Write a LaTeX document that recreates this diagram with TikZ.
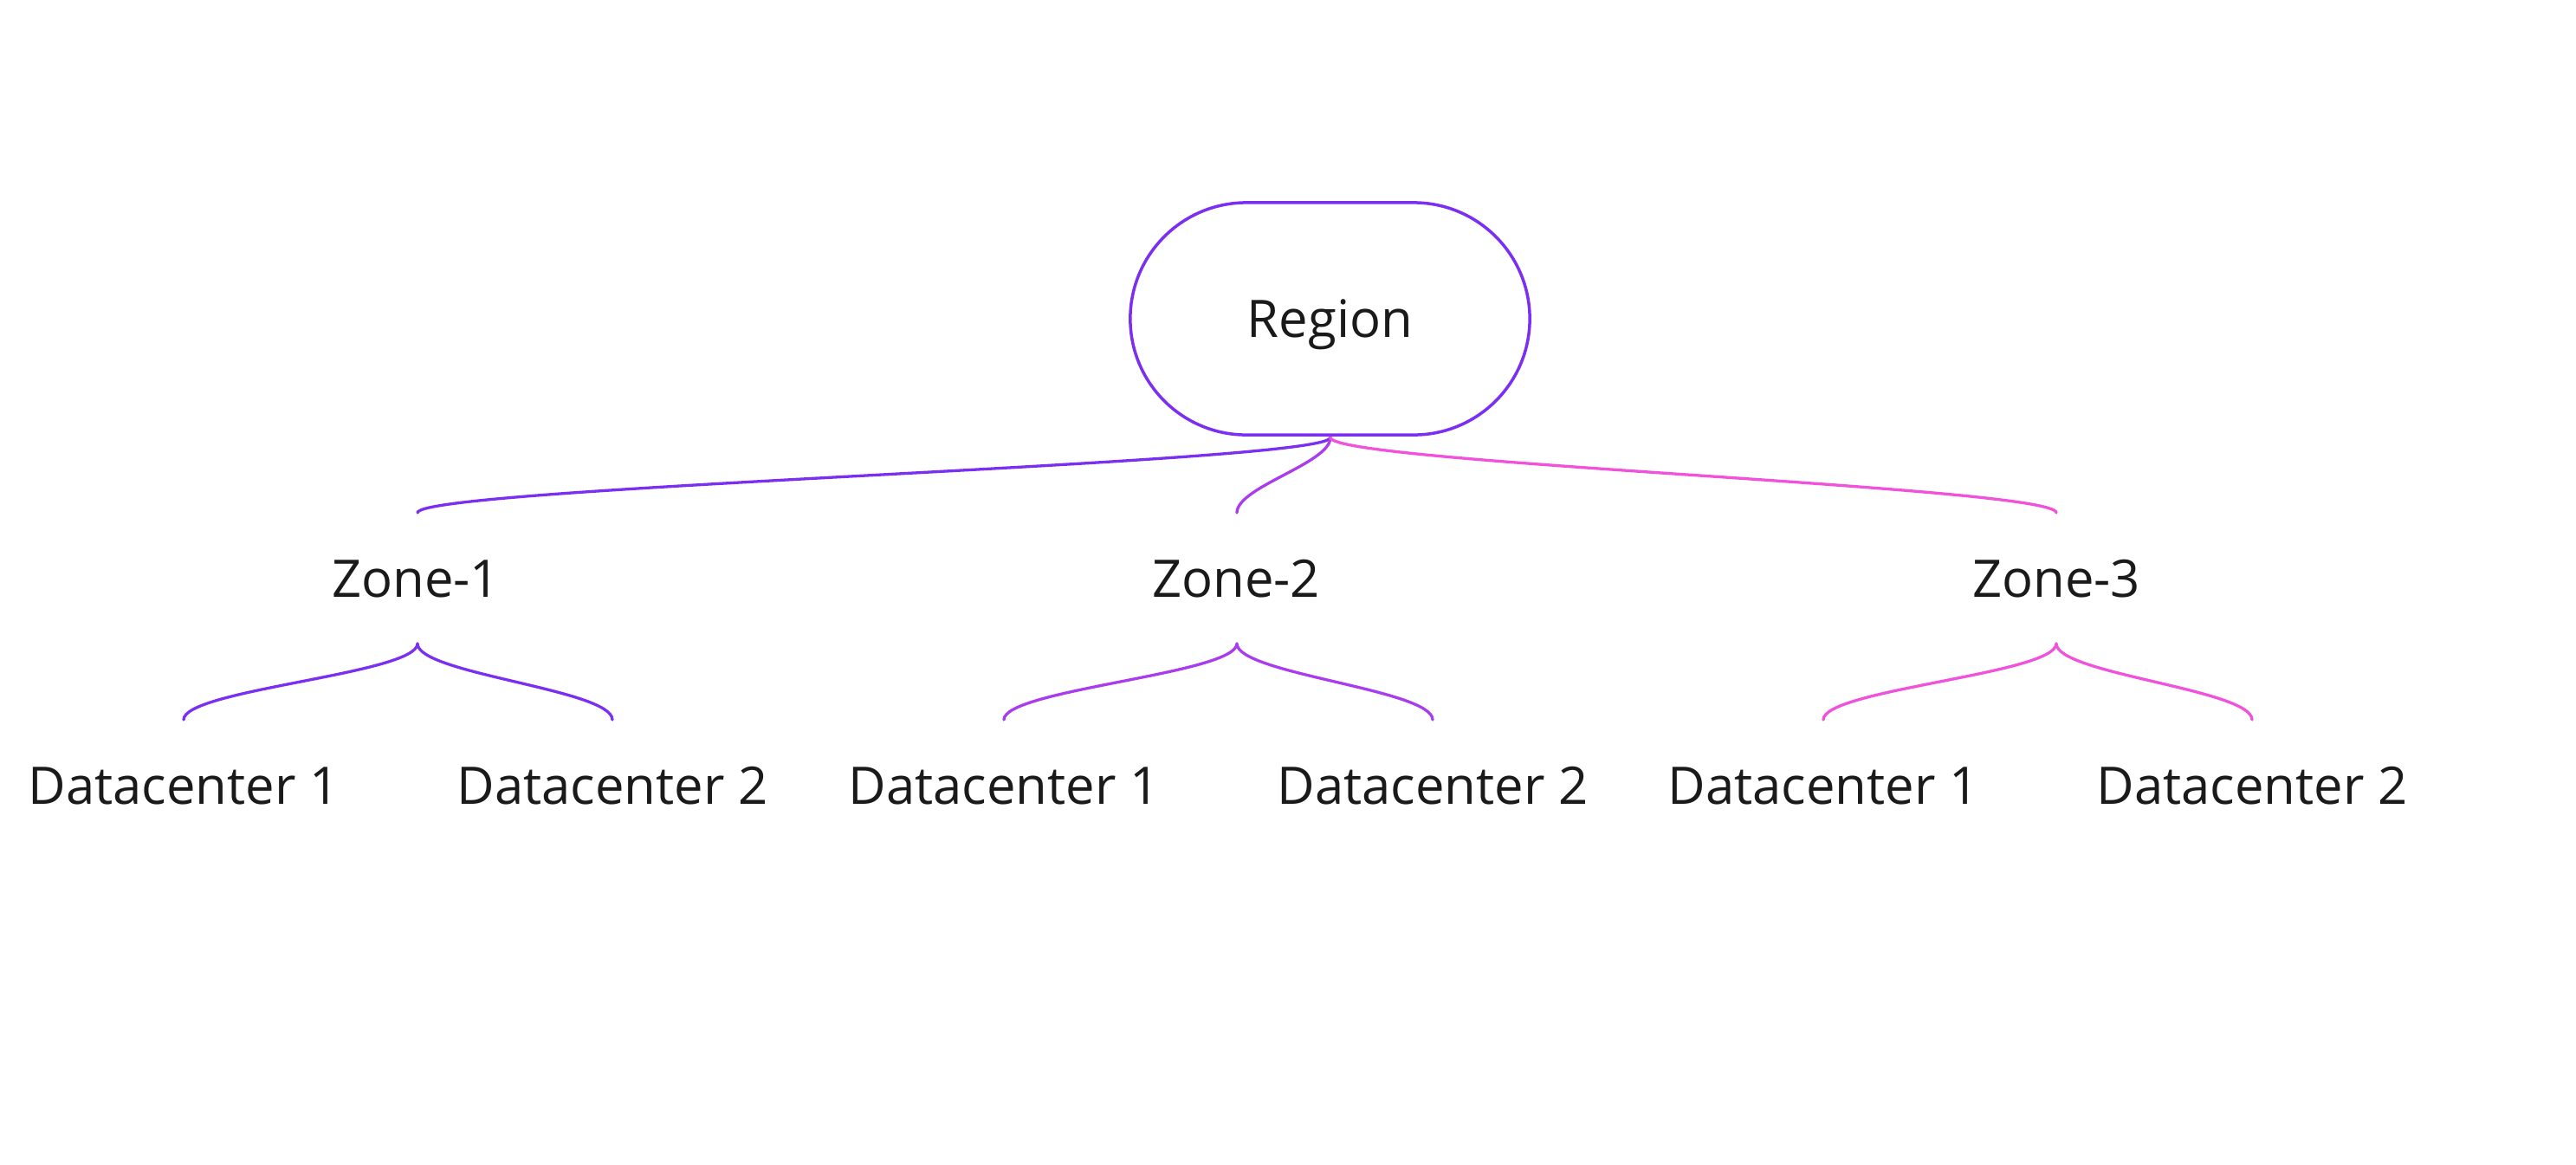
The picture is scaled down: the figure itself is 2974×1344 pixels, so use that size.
\documentclass[tikz,border=0pt]{standalone}
\usepackage{fontspec}
\setmainfont{Open Sans}
\definecolor{cA}{HTML}{7B2FF0}
\definecolor{cB}{HTML}{A93DEE}
\definecolor{cC}{HTML}{F052DC}
\definecolor{txt}{HTML}{1A1A1A}
\tikzset{
  lbl/.style={inner sep=0pt, text=txt, font=\fontsize{17}{20}\selectfont},
  conn/.style={line width=0.033cm, line cap=round},
  regionbox/.style={draw=cA, line width=0.035cm, rounded corners=1.34cm,
    minimum width=4.61cm, minimum height=2.68cm, text depth=0pt, text=txt, font=\fontsize{17}{20}\selectfont}
}
\begin{document}
\begin{tikzpicture}[x=0.01cm,y=-0.01cm]
\useasboundingbox (0,0) rectangle (2974,1344);
\node[regionbox] (region) at (1535.5,368) {Region};
\coordinate (root) at (1536,505);
\node[lbl] (z1) at (480,668) {Zone-1};
\node[lbl] (z2) at (1427,668) {Zone-2};
\node[lbl] (z3) at (2374,668) {Zone-3};
\coordinate (z1in) at (482,592);
\coordinate (z2in) at (1428,592);
\coordinate (z3in) at (2374,592);
\coordinate (z1out) at (482,743);
\coordinate (z2out) at (1428,743);
\coordinate (z3out) at (2374,743);
\foreach \n/\x in {1/212,2/707}{
  \coordinate (a\n) at (\x,831);
  \node[lbl] (da\n) at (\x,907) {Datacenter \n};
}
\foreach \n/\x in {1/1159,2/1654}{
  \coordinate (b\n) at (\x,831);
  \node[lbl] (db\n) at (\x,907) {Datacenter \n};
}
\foreach \n/\x in {1/2105,2/2600}{
  \coordinate (c\n) at (\x,831);
  \node[lbl] (dc\n) at (\x,907) {Datacenter \n};
}
\draw[conn,cA] (root) .. controls +(0,30) and +(0,-30) .. (z1in);
\draw[conn,cB] (root) .. controls +(0,30) and +(0,-30) .. (z2in);
\draw[conn,cC] (root) .. controls +(0,30) and +(0,-30) .. (z3in);
\draw[conn,cA] (z1out) .. controls +(0,35) and +(0,-35) .. (a1);
\draw[conn,cA] (z1out) .. controls +(0,35) and +(0,-35) .. (a2);
\draw[conn,cB] (z2out) .. controls +(0,35) and +(0,-35) .. (b1);
\draw[conn,cB] (z2out) .. controls +(0,35) and +(0,-35) .. (b2);
\draw[conn,cC] (z3out) .. controls +(0,35) and +(0,-35) .. (c1);
\draw[conn,cC] (z3out) .. controls +(0,35) and +(0,-35) .. (c2);
\end{tikzpicture}
\end{document}
